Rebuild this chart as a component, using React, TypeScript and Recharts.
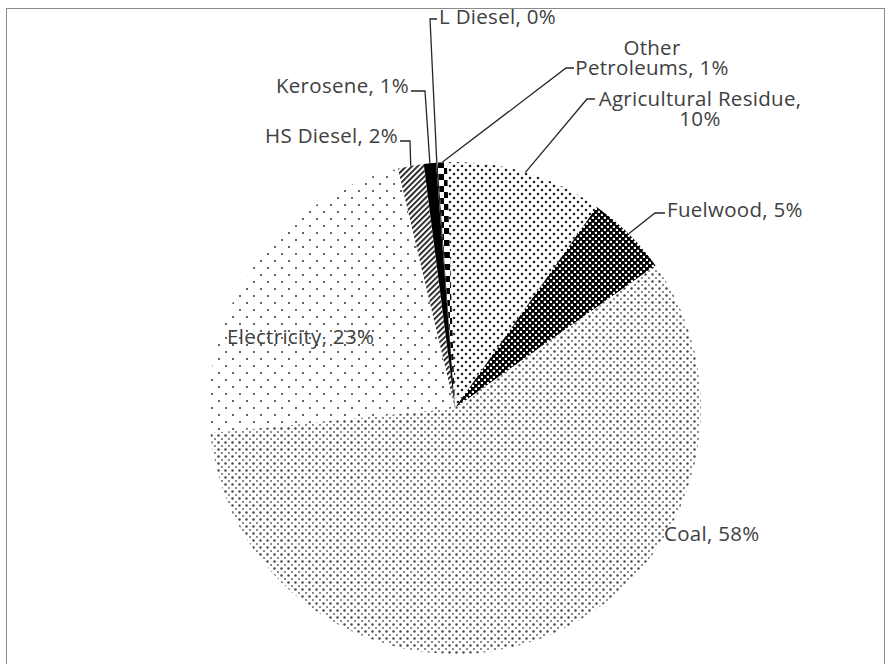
import React from 'react';
import { PieChart, Pie, Cell } from 'recharts';

const categories = [
  'Agricultural Residue',
  'Fuelwood',
  'Coal',
  'Electricity',
  'HS Diesel',
  'Kerosene',
  'L Diesel',
  'Other Petroleums',
];
const shares = [10.3, 5.4, 58.2, 22.9, 1.7, 0.8, 0.1, 0.6];
const patternIds = ['pAg', 'pFuel', 'pCoal', 'pElec', 'pHs', 'pKer', 'pLd', 'pOp'];

// label placement relative to pie centre (styling, not data)
const labelLayout = [
  { anchor: 'middle', tx: 245, ty: -310, wrap: [2, 1], leader: [[140, -309], [132, -309]] },
  { anchor: 'start', tx: 212, ty: -199, wrap: [2], leader: [[210, -195], [200, -195]] },
  { anchor: 'start', tx: 209, ty: 125, wrap: [2], leader: null },
  { anchor: 'start', tx: -228, ty: -72, wrap: [2], leader: null },
  { anchor: 'end', tx: -57, ty: -273, wrap: [3], leader: [[-55, -267], [-45, -267]] },
  { anchor: 'end', tx: -46, ty: -323, wrap: [2], leader: [[-44, -317], [-30, -317]] },
  { anchor: 'start', tx: -16, ty: -392, wrap: [3], leader: [[-18, -389], [-25, -389]] },
  { anchor: 'middle', tx: 197, ty: -361, wrap: [1, 2], leader: [[119, -340], [111, -340]] },
];

const data = categories.map((name, i) => ({ name, value: shares[i] }));

const CX = 455;
const CY = 408;
const R = 246;
const RADIAN = Math.PI / 180;
const FONT = "'Open Sans', Lato, sans-serif";
const TEXT_COLOR = '#404040';
const LINE_GAP = 20;

function renderLabel(props: any) {
  const { midAngle, percent, index } = props;
  const cx = props.cx ?? CX;
  const cy = props.cy ?? CY;
  const outerRadius = props.outerRadius ?? R;
  const L = labelLayout[index];
  const pct = Math.round(percent * 100);
  const words = `${categories[index]}, ${pct}%`.split(' ');
  const lines: string[] = [];
  let k = 0;
  L.wrap.forEach((n, li) => {
    const count = li === L.wrap.length - 1 ? words.length - k : n;
    lines.push(words.slice(k, k + count).join(' '));
    k += count;
  });
  const ox = cx + outerRadius * Math.cos(-midAngle * RADIAN);
  const oy = cy + outerRadius * Math.sin(-midAngle * RADIAN);
  return (
    <g key={`lbl-${index}`}>
      {L.leader && (
        <path
          d={`M${cx + L.leader[0][0]},${cy + L.leader[0][1]} L${cx + L.leader[1][0]},${cy + L.leader[1][1]} L${ox},${oy}`}
          stroke="#262626"
          strokeWidth={1.3}
          fill="none"
        />
      )}
      {lines.map((ln, i) => (
        <text
          key={i}
          x={cx + L.tx}
          y={cy + L.ty + i * LINE_GAP}
          textAnchor={L.anchor as any}
          fill={TEXT_COLOR}
          fontFamily={FONT}
          fontSize={20.5}
          letterSpacing={0.3}
          dominantBaseline="central"
        >
          {ln}
        </text>
      ))}
    </g>
  );
}

export default function App() {
  return (
    <div
      style={{
        position: 'absolute',
        left: 0,
        top: 0,
        width: 890,
        height: 664,
        overflow: 'hidden',
        background: '#fff',
      }}
    >
      <PieChart width={890} height={664} margin={{ top: 0, right: 0, bottom: 0, left: 0 }}>
        <defs>
          <pattern id="pAg" width="8" height="8" patternUnits="userSpaceOnUse">
            <rect width="8" height="8" fill="#fff" />
            <circle cx="2" cy="2" r="1.3" fill="#222" />
            <circle cx="6" cy="6" r="1.3" fill="#222" />
          </pattern>
          <pattern id="pFuel" width="6" height="6" patternUnits="userSpaceOnUse">
            <rect width="6" height="6" fill="#fff" />
            <rect x="0" y="0" width="3.8" height="3.8" fill="#000" />
            <rect x="3" y="3" width="3.8" height="3.8" fill="#000" />
            <rect x="-3" y="3" width="3.8" height="3.8" fill="#000" />
            <rect x="3" y="-3" width="3.8" height="3.8" fill="#000" />
          </pattern>
          <pattern id="pCoal" width="7" height="7" patternUnits="userSpaceOnUse">
            <rect width="7" height="7" fill="#fff" />
            <circle cx="1.5" cy="1.5" r="1.2" fill="#444" />
            <circle cx="5" cy="5" r="1.0" fill="#666" />
          </pattern>
          <pattern id="pElec" width="14" height="14" patternUnits="userSpaceOnUse">
            <rect width="14" height="14" fill="#fff" />
            <circle cx="2" cy="2" r="1" fill="#333" />
            <circle cx="9" cy="9" r="1" fill="#333" />
          </pattern>
          <pattern id="pHs" width="4" height="4" patternUnits="userSpaceOnUse" patternTransform="rotate(45)">
            <rect width="4" height="4" fill="#fff" />
            <rect x="0" y="0" width="1.7" height="4" fill="#111" />
          </pattern>
          <pattern id="pKer" width="4" height="4" patternUnits="userSpaceOnUse">
            <rect width="4" height="4" fill="#000" />
          </pattern>
          <pattern id="pLd" width="4" height="4" patternUnits="userSpaceOnUse">
            <rect width="4" height="4" fill="#222" />
          </pattern>
          <pattern id="pOp" width="12" height="12" patternUnits="userSpaceOnUse">
            <rect width="12" height="12" fill="#fff" />
            <rect x="0" y="0" width="6" height="6" fill="#000" />
            <rect x="6" y="6" width="6" height="6" fill="#000" />
          </pattern>
        </defs>
        <Pie
          data={data}
          dataKey="value"
          nameKey="name"
          cx={CX}
          cy={CY}
          outerRadius={R}
          startAngle={91.9}
          endAngle={-268.1}
          stroke="none"
          label={renderLabel}
          labelLine={false}
          isAnimationActive={false}
        >
          {data.map((d, i) => (
            <Cell key={d.name} fill={`url(#${patternIds[i]})`} stroke="none" />
          ))}
        </Pie>
      </PieChart>
      <div
        style={{
          position: 'absolute',
          left: 6,
          top: 8,
          width: 879,
          height: 700,
          border: '1.5px solid #8a8a8a',
          boxSizing: 'border-box',
          pointerEvents: 'none',
        }}
      />
    </div>
  );
}
